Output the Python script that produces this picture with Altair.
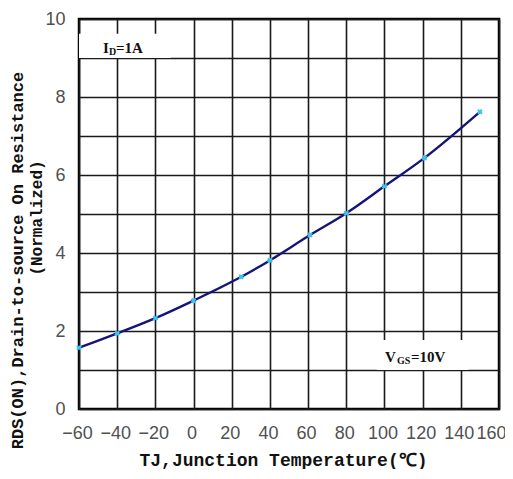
import altair as alt
import pandas as pd

# Data
temps = [-60, -40, -20, 0, 25, 40, 61, 80, 100, 121, 150]
rds = [1.57, 1.94, 2.33, 2.78, 3.39, 3.81, 4.46, 5.02, 5.71, 6.44, 7.62]

x_ticks = [-60, -40, -20, 0, 20, 40, 60, 80, 100, 120, 140, 160]
y_ticks = [0, 1, 2, 3, 4, 5, 6, 7, 8, 9, 10]

x_title = "TJ,Junction Temperature(℃)"
y_title = "RDS(ON),Drain-to-source On Resistance"
y_title2 = "(Normalized)"

# annotation boxes (data coordinates)
box_t = [-60, 96]
box_t2 = [-12, 144]
box_r = [9.0, 1.0]
box_r2 = [9.62, 1.77]

# annotation text pieces: anchor, text, size, dx, dy
ann_t = [-47.4, -47.4, -47.4, 100.3, 100.3, 100.3]
ann_r = [9.13, 9.13, 9.13, 1.2, 1.2, 1.2]
ann_txt = ["I", "D", "=1A", "V", "GS", "=10V"]
ann_size = [15, 10, 15, 15, 10, 15]
ann_dx = [0, 6, 13, 0, 12, 26]
ann_dy = [0, 2, 0, 0, 2, 0]

df = pd.DataFrame({"t": temps, "r": rds})
boxes = pd.DataFrame({"t": box_t, "t2": box_t2, "r": box_r, "r2": box_r2})
ann = pd.DataFrame({"t": ann_t, "r": ann_r, "txt": ann_txt, "size": ann_size,
                    "dx": ann_dx, "dy": ann_dy})

xenc = alt.X(
    "t:Q",
    scale=alt.Scale(domain=[-60, 160], nice=False, zero=False),
    axis=alt.Axis(
        values=x_ticks, grid=True, gridColor="#1a1a1a", gridWidth=1.6,
        ticks=False, tickSize=0, domain=False,
        labelFont="Liberation Sans", labelFontSize=18, labelColor="#505050",
        labelPadding=24, labelBaseline="middle", labelFlush=False, labelOverlap=False,
        labelAlign={"condition": {"test": "datum.value == 160", "value": "right"}, "value": "center"},
        labelOffset={"condition": {"test": "datum.value == 160", "value": 7}, "value": -2},
        title=x_title, titleFont="Liberation Mono", titleFontSize=18,
        titleFontWeight="bold", titleColor="#111", titleX=204, titleY=51,
        titleBaseline="middle",
    ),
)
yenc = alt.Y(
    "r:Q",
    scale=alt.Scale(domain=[0, 10], nice=False),
    axis=alt.Axis(
        values=y_ticks, grid=True, gridColor="#1a1a1a", gridWidth=1.6,
        ticks=False, tickSize=0, domain=False,
        labelExpr="datum.value % 2 == 0 ? datum.label : ''",
        labelFont="Liberation Sans", labelFontSize=18, labelColor="#505050",
        labelPadding=14, labelOverlap=False,
        title=y_title, titleFont="Liberation Mono", titleFontSize=17,
        titleFontWeight="bold", titleColor="#111", titleAngle=270,
        titleX=-62, titleY=241, titleBaseline="middle", titleAlign="center",
    ),
)

rects = alt.Chart(boxes).mark_rect(color="white").encode(
    x=xenc, x2="t2:Q", y=yenc, y2="r2:Q"
)

line = alt.Chart(df).mark_line(color="#14147a", strokeWidth=2.4, interpolate="monotone").encode(
    x=xenc, y=yenc
)
pts = alt.Chart(df).mark_point(shape="cross", angle=45, size=32, filled=True,
                               color="#3cc4f0", opacity=1).encode(x=xenc, y=yenc)

texts = []
for i in range(len(ann_txt)):
    sub = ann.iloc[[i]]
    texts.append(
        alt.Chart(sub).mark_text(
            align="left", baseline="alphabetic", font="Liberation Serif",
            fontWeight="bold", fontSize=int(ann_size[i]), dx=int(ann_dx[i]), dy=int(ann_dy[i]),
            color="#111",
        ).encode(x=xenc, y=yenc, text="txt:N")
    )

ytitle2 = alt.Chart(pd.DataFrame({"txt": [y_title2]})).mark_text(
    font="Liberation Mono", fontWeight="bold", fontSize=16, angle=270,
    align="center", baseline="middle", color="#111",
).encode(x=alt.value(-42), y=alt.value(199), text="txt:N")

chart = alt.layer(rects, line, pts, *texts, ytitle2).properties(
    width=420, height=390,
    padding={"left": 71, "top": 11, "right": 6, "bottom": 60},
    autosize=alt.AutoSizeParams(type="none"),
    background="white",
).configure_view(stroke="black", strokeWidth=2.5)

chart.save("out.html", embed_options={"renderer": "svg", "actions": False})
